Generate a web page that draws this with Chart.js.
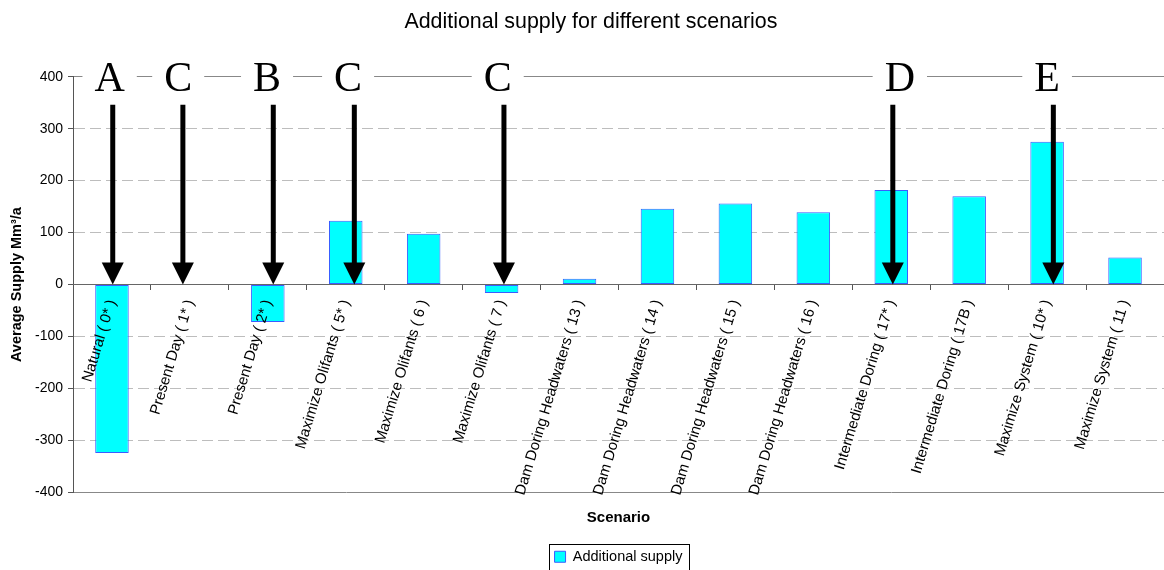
<!DOCTYPE html>
<html>
<head>
<meta charset="utf-8">
<script src="https://cdn.jsdelivr.net/npm/chart.js@4/dist/chart.umd.min.js"></script>
<style>
  html, body { margin: 0; padding: 0; background: #ffffff; }
  #wrap { width: 1164px; height: 570px; position: relative; }
</style>
</head>
<body>
<div id="wrap"><canvas id="chart"></canvas></div>
<script>
// Scenario names along the category axis
const categories = [
  'Natural ( 0* )',
  'Present Day ( 1* )',
  'Present Day ( 2* )',
  'Maximize Olifants ( 5* )',
  'Maximize Olifants ( 6 )',
  'Maximize Olifants ( 7 )',
  'Dam Doring Headwaters ( 13 )',
  'Dam Doring Headwaters ( 14 )',
  'Dam Doring Headwaters ( 15 )',
  'Dam Doring Headwaters ( 16 )',
  'Intermediate Doring ( 17* )',
  'Intermediate Doring ( 17B )',
  'Maximize System ( 10* )',
  'Maximize System ( 11 )'
];

// Additional supply per scenario, Mm³/a
const additionalSupply = [-324, 0, -72, 123, 98, -16, 11, 146, 156, 139, 182, 170, 275, 52];

// Value axis tick labels
const yTicks = [-400, -300, -200, -100, 0, 100, 200, 300, 400];

// Scenario class markers: letter, arrow position and letter position (category units)
const markerLetters = ['A', 'C', 'B', 'C', 'C', 'D', 'E'];
const markerArrowAt = [0.01, 0.91, 2.07, 3.11, 5.03, 10.02, 12.08];
const markerLetterAt = [-0.03, 0.85, 1.99, 3.03, 4.95, 10.11, 12.0];
const markerLineValue = 400;   // letters sit on this level
const arrowTopValue = 346;     // arrows start here and point down to zero

const FONT = '"Liberation Sans", Arial, sans-serif';

const markerPlugin = {
  id: 'scenarioMarkers',
  afterDraw(chart) {
    const { ctx } = chart;
    const x = chart.scales.x, y = chart.scales.y;
    ctx.save();

    // letters on the top line, each on a white box
    const lineY = y.getPixelForValue(markerLineValue);
    ctx.font = '42px "Liberation Serif", "Times New Roman", serif';
    ctx.textAlign = 'center';
    ctx.textBaseline = 'alphabetic';
    markerLetters.forEach((t, i) => {
      const cx = x.getPixelForValue(markerLetterAt[i]);
      const w = ctx.measureText(t).width;
      ctx.fillStyle = '#ffffff';
      ctx.fillRect(cx - w / 2 - 12, lineY - 20, w + 24, 40);
      ctx.fillStyle = '#000000';
      ctx.fillText(t, cx, lineY + 14);
    });

    // arrows pointing down to the zero line
    const tipY = y.getPixelForValue(0);
    const topY = y.getPixelForValue(arrowTopValue);
    const head = 22;
    ctx.fillStyle = '#000000';
    markerArrowAt.forEach(v => {
      const ax = x.getPixelForValue(v);
      ctx.fillRect(ax - 2.5, topY, 5, tipY - head - topY + 1);
      ctx.beginPath();
      ctx.moveTo(ax - 11, tipY - head);
      ctx.lineTo(ax + 11, tipY - head);
      ctx.lineTo(ax, tipY);
      ctx.closePath();
      ctx.fill();
    });

    // frame around the legend
    const lg = chart.legend;
    if (lg && lg.legendHitBoxes && lg.legendHitBoxes.length) {
      const hb = lg.legendHitBoxes[0];
      ctx.strokeStyle = '#000000';
      ctx.lineWidth = 1;
      ctx.strokeRect(Math.round(hb.left - 6) + 0.5, Math.round(hb.top - 6) + 0.5,
                     Math.round(hb.width + 12), Math.round(hb.height + 24));
    }
    ctx.restore();
  }
};

new Chart(document.getElementById('chart'), {
  type: 'bar',
  data: {
    labels: categories,
    datasets: [{
      label: 'Additional supply',
      data: additionalSupply,
      backgroundColor: '#00ffff',
      borderColor: '#3a5cff',
      borderWidth: 1,
      borderSkipped: false,
      barPercentage: 0.43,
      categoryPercentage: 1.0
    }]
  },
  options: {
    responsive: true,
    maintainAspectRatio: false,
    devicePixelRatio: 1,
    animation: false,
    layout: { padding: { left: 0, right: 0, top: 0, bottom: -4 } },
    plugins: {
      title: {
        display: true,
        text: '\u00a0\u00a0\u00a0Additional supply for different scenarios',
        color: '#000000',
        font: { family: FONT, size: 21.4, weight: 'normal' },
        padding: { top: 9, bottom: 42 }
      },
      subtitle: {
        display: true,
        position: 'bottom',
        fullSize: false,
        weight: 500,
        text: 'Scenario',
        color: '#000000',
        font: { family: FONT, size: 15, weight: 'bold' },
        padding: { top: 16, bottom: 23 }
      },
      legend: {
        display: true,
        position: 'bottom',
        fullSize: false,
        labels: {
          color: '#000000',
          font: { family: FONT, size: 14.5 },
          boxWidth: 11,
          boxHeight: 11,
          padding: 0
        }
      },
      tooltip: { enabled: false }
    },
    scales: {
      x: {
        position: { y: 0 },
        afterFit: s => { s.height = 0; },
        grid: {
          z: 1,
          drawOnChartArea: false,
          drawTicks: true,
          tickLength: 5,
          tickColor: '#555555',
          offset: true
        },
        border: { display: true, color: '#666666', width: 1, z: 1 },
        ticks: {
          z: 1,
          autoSkip: false,
          minRotation: 73,
          maxRotation: 73,
          padding: 8,
          color: '#000000',
          font: { family: FONT, size: 15 }
        }
      },
      y: {
        min: -400,
        max: 400,
        afterBuildTicks: s => { s.ticks = yTicks.map(v => ({ value: v })); },
        afterFit: s => { s.width = 73; },
        title: {
          display: true,
          text: 'Average Supply Mm³/a',
          color: '#000000',
          font: { family: FONT, size: 14.5, weight: 'bold' },
          padding: { top: 8, bottom: 0 }
        },
        grid: {
          drawTicks: true,
          tickLength: 5,
          tickColor: '#555555',
          color: ctx => {
            const v = ctx.tick ? ctx.tick.value : null;
            if (v === 400 || v === -400) return '#888888';
            if (v === 0) return 'rgba(0,0,0,0)';
            return '#bdbdbd';
          }
        },
        border: {
          display: true,
          color: '#555555',
          width: 1,
          dash: ctx => {
            const v = ctx.tick ? ctx.tick.value : null;
            if (v === null || v === 400 || v === -400) return [];
            return [11, 5];
          }
        },
        ticks: {
          padding: 5,
          color: '#000000',
          font: { family: FONT, size: 14 },
          callback: v => String(v)
        }
      }
    }
  },
  plugins: [markerPlugin]
});
</script>
</body>
</html>
